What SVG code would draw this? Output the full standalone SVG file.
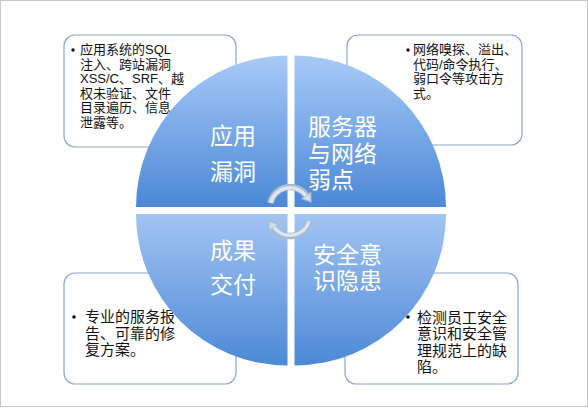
<svg xmlns="http://www.w3.org/2000/svg" width="588" height="408" viewBox="0 0 588 408">
<style>
.box{fill:#ffffff;stroke:#8ea6c8;stroke-width:1.2}
.bt{font-family:"Liberation Sans","Noto Sans CJK SC",sans-serif;fill:#111111}
.s13{font-size:13px}
.s15{font-size:15px}
.lbl{font-family:"Liberation Sans","Noto Sans CJK SC",sans-serif;font-size:23px;fill:#ffffff}
.arc{fill:none;stroke:#a9b9cf;stroke-width:6.5;stroke-linecap:butt}
.arc2{fill:none;stroke:#dde5f0;stroke-width:3.5}
</style>
<defs>
<linearGradient id="gq" x1="0" y1="0" x2="0" y2="1">
<stop offset="0" stop-color="#a9caf8"/>
<stop offset="1" stop-color="#4a88d6"/>
</linearGradient>
<linearGradient id="gb" x1="0" y1="0" x2="0" y2="1">
<stop offset="0" stop-color="#a3c4f3"/>
<stop offset="1" stop-color="#4c89d6"/>
</linearGradient>
<marker id="ah" markerUnits="userSpaceOnUse" markerWidth="14" markerHeight="14" refX="1" refY="7" orient="auto">
<path d="M1,1.5 L9,7 L1,12.5 Z" fill="#d3ddeb" stroke="#a9b9cf" stroke-width="1"/>
</marker>
</defs>
<rect x="0.5" y="0.5" width="587" height="406" fill="#ffffff" stroke="#c8c8c8" stroke-width="1"/>

<g id="box-tl">
<rect class="box" x="64" y="35" width="172" height="112" rx="11"/>
<circle cx="73" cy="50" r="1.7" fill="#111"/>
<text class="bt s13" x="80"><tspan x="80" y="54">应用系统的SQL</tspan><tspan x="80" y="68.6">注入、跨站漏洞</tspan><tspan x="80" y="83.2">XSS/C、SRF、越</tspan><tspan x="80" y="97.8">权未验证、文件</tspan><tspan x="80" y="112.4">目录遍历、信息</tspan><tspan x="80" y="127">泄露等。</tspan></text>
</g>
<g id="box-tr">
<rect class="box" x="347" y="35" width="175" height="110" rx="11"/>
<circle cx="408" cy="50" r="1.7" fill="#111"/>
<text class="bt s13"><tspan x="413" y="54">网络嗅探、溢出、</tspan><tspan x="413" y="68.5">代码/命令执行、</tspan><tspan x="413" y="83">弱口令等攻击方</tspan><tspan x="413" y="97.5">式。</tspan></text>
</g>
<g id="box-bl">
<rect class="box" x="64" y="273" width="172" height="111" rx="11"/>
<circle cx="74" cy="317" r="1.8" fill="#111"/>
<text class="bt s15"><tspan x="85" y="322">专业的服务报</tspan><tspan x="85" y="338.5">告、可靠的修</tspan><tspan x="85" y="355">复方案。</tspan></text>
</g>
<g id="box-br">
<rect class="box" x="345" y="273" width="173" height="111" rx="11"/>
<circle cx="408" cy="317" r="1.8" fill="#111"/>
<text class="bt s15"><tspan x="417" y="323">检测员工安全</tspan><tspan x="417" y="339.3">意识和安全管</tspan><tspan x="417" y="355.6">理规范上的缺</tspan><tspan x="417" y="372">陷。</tspan></text>
</g>

<g id="q-tl">
<path d="M287.5,207 L136,207 A151.5,151.5 0 0 1 287.5,55.5 Z" fill="url(#gq)"/>
<text class="lbl"><tspan x="210" y="144">应用</tspan><tspan x="210" y="180">漏洞</tspan></text>
</g>
<g id="q-tr">
<path d="M294.5,207 L294.5,55.5 A151.5,151.5 0 0 1 446,207 Z" fill="url(#gq)"/>
<text class="lbl"><tspan x="308" y="135">服务器</tspan><tspan x="308" y="161.5">与网络</tspan><tspan x="308" y="188">弱点</tspan></text>
</g>
<g id="q-bl">
<path d="M287.5,214 L287.5,365.5 A151.5,151.5 0 0 1 136,214 Z" fill="url(#gb)"/>
<text class="lbl"><tspan x="210" y="259">成果</tspan><tspan x="210" y="293">交付</tspan></text>
</g>
<g id="q-br">
<path d="M294.5,214 L446,214 A151.5,151.5 0 0 1 294.5,365.5 Z" fill="url(#gb)"/>
<text class="lbl"><tspan x="313" y="262.5">安全意</tspan><tspan x="313" y="288.5">识隐患</tspan></text>
</g>

<g id="connectors">
<path class="arc" d="M270.4,203.2 A20,20 0 0 1 306.4,195.5" marker-end="url(#ah)"/>
<path class="arc2" d="M270.6,203 A20,20 0 0 1 306,195.8"/>
<path class="arc" d="M309.3,221.2 A20,20 0 0 1 273.6,227.5" marker-end="url(#ah)"/>
<path class="arc2" d="M309.1,221.3 A20,20 0 0 1 274,227.2"/>
</g>
</svg>
